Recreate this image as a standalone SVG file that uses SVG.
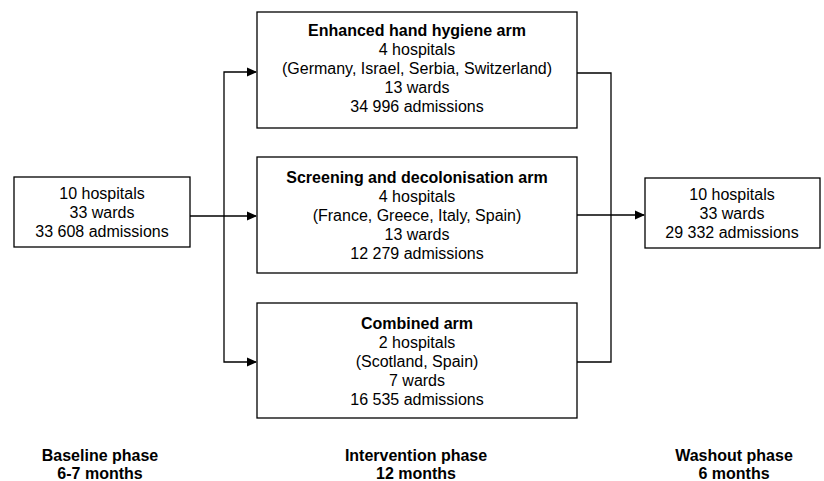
<svg xmlns="http://www.w3.org/2000/svg" width="824" height="481" viewBox="0 0 824 481">
<style>
.box{fill:#fff;stroke:#000;stroke-width:1.3}
text{font-family:"Liberation Sans",Arial,sans-serif;font-size:16px;fill:#000;text-anchor:middle}
.b{font-weight:bold}
.ln{fill:none;stroke:#000;stroke-width:1.3}
</style>
<defs>
<marker id="ah" markerWidth="10" markerHeight="10" refX="9" refY="5" orient="auto" markerUnits="userSpaceOnUse">
<path d="M0,0.5 L10,5 L0,9.5 Z" fill="#000"/>
</marker>
</defs>
<g id="connectors">
<path class="ln" d="M190,216 H256" marker-end="url(#ah)"/>
<path class="ln" d="M224,216 V72 H256" marker-end="url(#ah)"/>
<path class="ln" d="M224,216 V362 H256" marker-end="url(#ah)"/>
<path class="ln" d="M577,73 H611 V362 H577"/>
<path class="ln" d="M577,215 H644" marker-end="url(#ah)"/>
</g>
<g id="baseline">
<rect class="box" x="14" y="177" width="176" height="70"/>
<text x="102" y="199">10 hospitals</text>
<text x="102" y="218">33 wards</text>
<text x="102" y="237">33 608 admissions</text>
</g>
<g id="hand-hygiene">
<rect class="box" x="257" y="12" width="320" height="116"/>
<text class="b" x="417" y="36">Enhanced hand hygiene arm</text>
<text x="417" y="55">4 hospitals</text>
<text x="417" y="74">(Germany, Israel, Serbia, Switzerland)</text>
<text x="417" y="93">13 wards</text>
<text x="417" y="112">34 996 admissions</text>
</g>
<g id="screening">
<rect class="box" x="257" y="157" width="320" height="116"/>
<text class="b" x="417" y="183">Screening and decolonisation arm</text>
<text x="417" y="202">4 hospitals</text>
<text x="417" y="221">(France, Greece, Italy, Spain)</text>
<text x="417" y="240">13 wards</text>
<text x="417" y="259">12 279 admissions</text>
</g>
<g id="combined">
<rect class="box" x="257" y="303" width="320" height="115"/>
<text class="b" x="417" y="329">Combined arm</text>
<text x="417" y="348">2 hospitals</text>
<text x="417" y="367">(Scotland, Spain)</text>
<text x="417" y="386">7 wards</text>
<text x="417" y="405">16 535 admissions</text>
</g>
<g id="washout">
<rect class="box" x="645" y="178" width="175" height="70"/>
<text x="732" y="200">10 hospitals</text>
<text x="732" y="219">33 wards</text>
<text x="732" y="238">29 332 admissions</text>
</g>
<g id="phase-labels">
<text class="b" x="100" y="461">Baseline phase</text>
<text class="b" x="100" y="479">6-7 months</text>
<text class="b" x="416" y="461">Intervention phase</text>
<text class="b" x="416" y="479">12 months</text>
<text class="b" x="734" y="461">Washout phase</text>
<text class="b" x="734" y="479">6 months</text>
</g>
</svg>
